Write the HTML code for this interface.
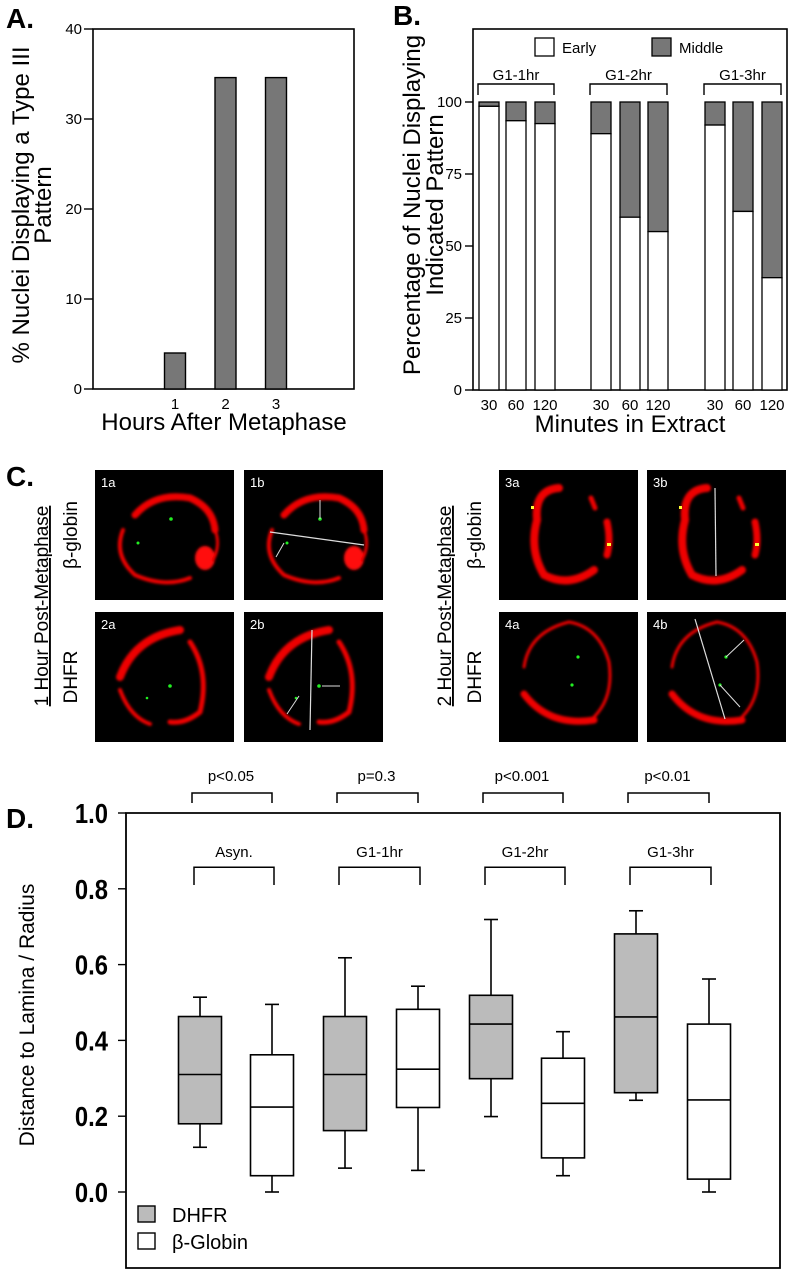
<!DOCTYPE html>
<html><head><meta charset="utf-8"><style>
html,body{margin:0;padding:0;background:#fff;}
svg{display:block;font-family:"Liberation Sans",Arial,sans-serif;}
</style></head><body>
<svg id="fig" width="795" height="1280" viewBox="0 0 795 1280" xmlns="http://www.w3.org/2000/svg">
<defs><filter id="fz" x="-10%" y="-10%" width="120%" height="120%"><feGaussianBlur stdDeviation="1.2"/></filter></defs>
<text x="6" y="28" font-size="28" font-weight="bold">A.</text>
<text x="393" y="25" font-size="28" font-weight="bold">B.</text>
<text x="6" y="486" font-size="28" font-weight="bold">C.</text>
<text x="6" y="828" font-size="28" font-weight="bold">D.</text>

<g id="panelA"></g>
<g id="panelB"></g>
<g id="panelC"></g>
<g id="panelD"></g>
</svg>
<script>
// ---------- Panel A data ----------
const aCategories = ["1","2","3"];
const aValues = [4, 34.6, 34.6];
const aTicks = [0,10,20,30,40];
// ---------- Panel B data ----------
const bGroups = ["G1-1hr","G1-2hr","G1-3hr"];
const bTimes = ["30","60","120"];
const bEarly = [98.5,93.5,92.5, 89,60,55, 92,62,39];
const bTicks = [0,25,50,75,100];
// ---------- Panel D data ----------
const dGroups = ["Asyn.","G1-1hr","G1-2hr","G1-3hr"];
const dPvals = ["p<0.05","p=0.3","p<0.001","p<0.01"];
const dhfrStats = [[0.118,0.18,0.31,0.463,0.514],[0.063,0.162,0.31,0.463,0.618],[0.199,0.299,0.443,0.519,0.719],[0.242,0.262,0.462,0.681,0.742]];
const globinStats = [[0,0.043,0.224,0.362,0.495],[0.057,0.223,0.324,0.482,0.543],[0.043,0.09,0.234,0.353,0.423],[0,0.034,0.243,0.443,0.562]];
const dTicks = ["0.0","0.2","0.4","0.6","0.8","1.0"];

const NS="http://www.w3.org/2000/svg";
function mk(parent, tag, attrs, text){
  const e=document.createElementNS(NS,tag);
  for(const k in attrs) e.setAttribute(k, attrs[k]);
  if(text!==undefined) e.textContent=text;
  parent.appendChild(e); return e;
}

// ================= Panel A =================
(function(){
  const g=document.getElementById('panelA');
  const L=93,R=354,T=29,B=389;
  const y=v=>B-(v/40)*(B-T);
  const xc=i=>175+i*50.5;
  const frame=mk(g,'rect',{x:L,y:T,width:R-L,height:B-T,fill:'none',stroke:'#000','stroke-width':1.6});
  
  
  aTicks.forEach(t=>{
    const ln=mk(g,'line',{x1:84,x2:L,y1:y(t),y2:y(t),stroke:'#000','stroke-width':1.4});
    
    
    const tx=mk(g,'text',{x:82,y:y(t)+5,'font-size':15,'text-anchor':'end'},String(t));
    
    
  });
  aValues.forEach((v,i)=>{
    const r=mk(g,'rect',{x:xc(i)-10.5,y:y(v),width:21,height:B-y(v),fill:'#777',stroke:'#000','stroke-width':1.4});
    
    
    const tx=mk(g,'text',{x:xc(i),y:409,'font-size':15,'text-anchor':'middle'},aCategories[i]);
    
    
  });
  const xt=mk(g,'text',{x:224,y:430,'font-size':24,'text-anchor':'middle'},'Hours After Metaphase');
  
  
  const yt=mk(g,'text',{transform:'translate(29,205) rotate(-90)','font-size':24,'text-anchor':'middle'},'% Nuclei Displaying a Type III');
  
  
  const yt2=mk(g,'text',{transform:'translate(51,205) rotate(-90)','font-size':24,'text-anchor':'middle'},'Pattern');
  
  
})();

// ================= Panel B =================
(function(){
  const g=document.getElementById('panelB');
  const L=473,R=787,T=29,B=390,Y100=102;
  const y=v=>B-(v/100)*(B-Y100);
  const barX=[479,506,535,591,620,648,705,733,762];
  const bw=20;
  const frame=mk(g,'rect',{x:L,y:T,width:R-L,height:B-T,fill:'none',stroke:'#000','stroke-width':1.6});
  
  
  bTicks.forEach(t=>{
    const ln=mk(g,'line',{x1:465,x2:L,y1:y(t),y2:y(t),stroke:'#000','stroke-width':1.4});
    
    
    const tx=mk(g,'text',{x:462,y:y(t)+5,'font-size':15,'text-anchor':'end'},String(t));
    
    
  });
  bEarly.forEach((v,i)=>{
    const x=barX[i];
    const m=mk(g,'rect',{x:x,y:y(100),width:bw,height:y(v)-y(100),fill:'#777',stroke:'#000','stroke-width':1.3});
    
    
    const e=mk(g,'rect',{x:x,y:y(v),width:bw,height:B-y(v),fill:'#fff',stroke:'#000','stroke-width':1.3});
    
    
    const tx=mk(g,'text',{x:x+bw/2,y:410,'font-size':15,'text-anchor':'middle'},bTimes[i%3]);
    
    
  });
  bGroups.forEach((gn,k)=>{
    const x1=barX[k*3]-1, x2=barX[k*3+2]+bw-1;
    const br=mk(g,'path',{d:`M${x1},95 V84 H${x2} V95`,fill:'none',stroke:'#000','stroke-width':1.4});
    
    
    const tx=mk(g,'text',{x:(x1+x2)/2,y:80,'font-size':15,'text-anchor':'middle'},gn);
    
    
  });
  const l1=mk(g,'rect',{x:535,y:38,width:19,height:18,fill:'#fff',stroke:'#000','stroke-width':1.3});
  
  
  const l1t=mk(g,'text',{x:562,y:53,'font-size':15},'Early');
  
  
  const l2=mk(g,'rect',{x:652,y:38,width:19,height:18,fill:'#777',stroke:'#000','stroke-width':1.3});
  
  
  const l2t=mk(g,'text',{x:679,y:53,'font-size':15},'Middle');
  
  
  const xt=mk(g,'text',{x:630,y:432,'font-size':24,'text-anchor':'middle'},'Minutes in Extract');
  
  
  const yt=mk(g,'text',{transform:'translate(420,205) rotate(-90)','font-size':24,'text-anchor':'middle'},'Percentage of Nuclei Displaying');
  
  
  const yt2=mk(g,'text',{transform:'translate(443,205) rotate(-90)','font-size':24,'text-anchor':'middle'},'Indicated Pattern');
  
  
})();

// ================= Panel C =================
(function(){
  const g=document.getElementById('panelC');
  const panels=[
    {id:'1a',x:95,y:470,type:1,lines:false},{id:'1b',x:244,y:470,type:1,lines:true},
    {id:'2a',x:95,y:612,type:2,lines:false},{id:'2b',x:244,y:612,type:2,lines:true},
    {id:'3a',x:499,y:470,type:3,lines:false},{id:'3b',x:647,y:470,type:3,lines:true},
    {id:'4a',x:499,y:612,type:4,lines:false},{id:'4b',x:647,y:612,type:4,lines:true}];
  panels.forEach(p=>{
    const grp=mk(g,'g',{transform:`translate(${p.x},${p.y})`});
    
    
    mk(grp,'rect',{x:0,y:0,width:139,height:130,fill:'#000'});
    const rg=mk(grp,'g',{filter:'url(#fz)'});
    const red={fill:'none',stroke:'#e00','stroke-linecap':'round'};
    if(p.type===1){
      mk(rg,'path',Object.assign({d:'M40,45 Q60,22 95,28 Q118,38 120,60','stroke-width':7},red));
      mk(rg,'path',Object.assign({d:'M28,60 Q18,85 40,105 Q70,118 95,108','stroke-width':4},red));
      mk(rg,'ellipse',{cx:110,cy:88,rx:10,ry:12,fill:'#f11'});
      mk(rg,'path',Object.assign({d:'M120,60 Q126,75 118,90','stroke-width':3},red));
    } else if(p.type===2){
      mk(rg,'path',Object.assign({d:'M25,65 Q40,25 85,18','stroke-width':8},red));
      mk(rg,'path',Object.assign({d:'M95,30 Q115,60 105,100 Q90,112 75,110','stroke-width':5},red));
      mk(rg,'path',Object.assign({d:'M25,78 Q35,105 55,112','stroke-width':4},red));
    } else if(p.type===3){
      mk(rg,'path',Object.assign({d:'M60,18 Q35,20 38,50 Q30,80 45,105 Q70,118 95,100','stroke-width':8},red));
      mk(rg,'path',Object.assign({d:'M108,52 Q112,70 108,85','stroke-width':7},red));
      mk(rg,'path',Object.assign({d:'M92,28 L96,38','stroke-width':5},red));
    } else {
      mk(rg,'path',Object.assign({d:'M25,55 Q30,20 70,10 Q100,15 110,50 Q115,85 95,105','stroke-width':3},red));
      mk(rg,'path',Object.assign({d:'M25,82 Q50,115 95,108','stroke-width':7},red));
    }
    if(p.type===1){
      mk(grp,'circle',{cx:76,cy:49,r:1.8,fill:'#2e2'});
      mk(grp,'circle',{cx:43,cy:73,r:1.5,fill:'#2e2'});
      if(p.lines){mk(grp,'line',{x1:26,y1:62,x2:120,y2:75,stroke:'#ddd','stroke-width':1.2});
        mk(grp,'line',{x1:76,y1:49,x2:76,y2:30,stroke:'#ddd','stroke-width':1});
        mk(grp,'line',{x1:40,y1:73,x2:32,y2:87,stroke:'#ddd','stroke-width':1});}
    } else if(p.type===2){
      mk(grp,'circle',{cx:75,cy:74,r:1.8,fill:'#2e2'});
      mk(grp,'circle',{cx:52,cy:86,r:1.3,fill:'#2e2'});
      if(p.lines){mk(grp,'line',{x1:68,y1:18,x2:66,y2:118,stroke:'#ddd','stroke-width':1.2});
        mk(grp,'line',{x1:78,y1:74,x2:96,y2:74,stroke:'#ddd','stroke-width':1});
        mk(grp,'line',{x1:55,y1:84,x2:43,y2:102,stroke:'#ddd','stroke-width':1});}
    } else if(p.type===3){
      mk(grp,'rect',{x:32,y:36,width:3,height:3,fill:'#ff3'});
      mk(grp,'rect',{x:108,y:73,width:4,height:3,fill:'#ff3'});
      if(p.lines){mk(grp,'line',{x1:68,y1:18,x2:69,y2:106,stroke:'#ddd','stroke-width':1.2});}
    } else {
      mk(grp,'circle',{cx:79,cy:45,r:1.6,fill:'#2e2'});
      mk(grp,'circle',{cx:73,cy:73,r:1.6,fill:'#2e2'});
      if(p.lines){mk(grp,'line',{x1:48,y1:7,x2:78,y2:107,stroke:'#ddd','stroke-width':1.2});
        mk(grp,'line',{x1:79,y1:45,x2:97,y2:28,stroke:'#ddd','stroke-width':1});
        mk(grp,'line',{x1:73,y1:73,x2:93,y2:95,stroke:'#ddd','stroke-width':1});}
    }
    const t=mk(grp,'text',{x:6,y:17,'font-size':13,fill:'#fff'},p.id);
    
    
  });
  const labs=[
    {t:'1 Hour Post-Metaphase',x:48,y:606,u:true},{t:'β-globin',x:77,y:535},{t:'DHFR',x:77,y:677},
    {t:'2 Hour Post-Metaphase',x:451,y:606,u:true},{t:'β-globin',x:481,y:535},{t:'DHFR',x:481,y:677}];
  labs.forEach(l=>{
    const t=mk(g,'text',{transform:`translate(${l.x},${l.y}) rotate(-90)`,'font-size':19,'text-anchor':'middle','text-decoration':l.u?'underline':'none'},l.t);
    
    
  });
})();

// ================= Panel D =================
(function(){
  const g=document.getElementById('panelD');
  const L=126,R=780,T=813,B=1192,BOT=1268;
  const y=v=>B-v*(B-T);
  const centers=[[200,272],[345,418],[491,563],[636,709]];
  const hw=21.5, cap=14;
  mk(g,'path',{d:`M${L},${T} H${R} V${BOT} H${L} Z`,fill:'none',stroke:'#000','stroke-width':1.8});
  dTicks.forEach(t=>{
    const v=parseFloat(t);
    const ln=mk(g,'line',{x1:118,x2:L,y1:y(v),y2:y(v),stroke:'#000','stroke-width':1.4});
    
    
    const tx=mk(g,'text',{x:0,y:y(v)+10,'font-size':28,'font-weight':'bold','text-anchor':'end',transform:`translate(108,0) scale(0.85,1)`},t);
    
    
  });
  function box(stats,cx,fill,name){
    const [lo,q1,med,q3,hi]=stats;
    const grp=mk(g,'g',{});
    
    
    const s={stroke:'#000','stroke-width':1.6};
    mk(grp,'line',Object.assign({x1:cx,x2:cx,y1:y(hi),y2:y(q3)},s));
    mk(grp,'line',Object.assign({x1:cx-cap/2,x2:cx+cap/2,y1:y(hi),y2:y(hi)},s));
    mk(grp,'line',Object.assign({x1:cx,x2:cx,y1:y(q1),y2:y(lo)},s));
    mk(grp,'line',Object.assign({x1:cx-cap/2,x2:cx+cap/2,y1:y(lo),y2:y(lo)},s));
    mk(grp,'rect',Object.assign({x:cx-hw,y:y(q3),width:2*hw,height:y(q1)-y(q3),fill:fill},s));
    mk(grp,'line',Object.assign({x1:cx-hw,x2:cx+hw,y1:y(med),y2:y(med)},s));
  }
  dGroups.forEach((gn,i)=>{
    box(dhfrStats[i],centers[i][0],'#bbb','box-dhfr-'+i);
    box(globinStats[i],centers[i][1],'#fff','box-globin-'+i);
    const c0=centers[i][0]-6,c1=centers[i][1]+2;
    const b1=mk(g,'path',{d:`M${c0},${y(0.81)} V${y(0.857)} H${c1} V${y(0.81)}`,fill:'none',stroke:'#000','stroke-width':1.5});
    
    
    const t1=mk(g,'text',{x:(c0+c1)/2,y:857,'font-size':15,'text-anchor':'middle'},gn);
    
    
    const b2=mk(g,'path',{d:`M${c0-2},803 V793 H${c1-2} V803`,fill:'none',stroke:'#000','stroke-width':1.5});
    
    
    const t2=mk(g,'text',{x:(c0+c1)/2-3,y:781,'font-size':15,'text-anchor':'middle'},dPvals[i]);
    
    
  });
  const s1=mk(g,'rect',{x:138,y:1206,width:17,height:16,fill:'#bbb',stroke:'#000','stroke-width':1.4});
  
  
  const t1=mk(g,'text',{x:172,y:1222,'font-size':20},'DHFR');
  
  
  const s2=mk(g,'rect',{x:138,y:1233,width:17,height:16,fill:'#fff',stroke:'#000','stroke-width':1.4});
  
  
  const t2=mk(g,'text',{x:172,y:1249,'font-size':20},'β-Globin');
  
  
  const yt=mk(g,'text',{transform:'translate(34,1015) rotate(-90)','font-size':21,'text-anchor':'middle'},'Distance to Lamina / Radius');
  
  
})();
</script>
</body></html>
